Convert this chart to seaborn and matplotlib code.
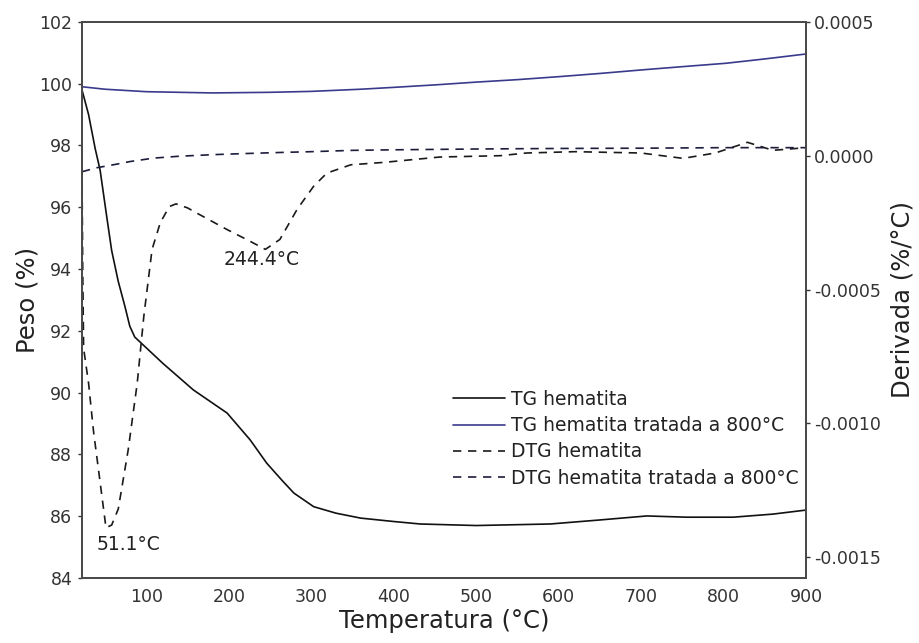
import matplotlib
matplotlib.use("Agg")
import matplotlib.pyplot as plt
import seaborn as sns

# --- TG curves (weight %, left axis) ---
tg_hem_temp = [22, 30, 38, 44, 52, 58, 66, 74, 80, 86, 92, 120, 157, 198, 226, 246,
               265, 279, 303, 330, 360, 400, 432, 500, 590, 650, 707, 755, 812, 860, 900]
tg_hem_peso = [99.8, 99.0, 97.9, 97.2, 95.7, 94.6, 93.6, 92.8, 92.15, 91.8, 91.65, 90.95,
               90.09, 89.34, 88.47, 87.72, 87.15, 86.75, 86.31, 86.1, 85.94, 85.83, 85.75,
               85.7, 85.75, 85.88, 86.01, 85.97, 85.97, 86.07, 86.2]

tg_trat_temp = [22, 50, 100, 180, 250, 300, 360, 400, 450, 500, 550, 602, 650, 703,
                750, 803, 850, 900]
tg_trat_peso = [99.9, 99.82, 99.74, 99.7, 99.72, 99.75, 99.82, 99.88, 99.96, 100.05,
                100.13, 100.23, 100.33, 100.45, 100.55, 100.66, 100.8, 100.96]

# --- DTG curves (derivative %/°C, right axis) ---
dtg_hem_temp = [22, 23, 24, 30, 36, 44, 51.1, 58, 66, 78, 89, 97, 107, 117, 128, 136,
                150, 161, 198, 226, 244.4, 262, 283, 303, 319, 348, 388, 456, 529, 561,
                620, 700, 751, 790, 829, 860, 900]
dtg_hem_der = [-0.00006, -0.00045, -0.00072, -0.00085, -0.00103, -0.00122, -0.00139,
               -0.00138, -0.00132, -0.00110, -0.00085, -0.00060, -0.00035, -0.00025,
               -0.00019, -0.00018, -0.000195, -0.000214, -0.000276, -0.00032, -0.00035,
               -0.000313, -0.00020, -0.000114, -0.000065, -0.000034, -0.000025,
               -0.000005, 0.0, 0.00001, 0.000015, 0.00001, -0.00001, 0.00001, 0.00005,
               0.00002, 0.00003]

dtg_trat_temp = [22, 40, 60, 80, 109, 140, 182, 220, 262, 300, 351, 400, 500, 600, 700,
                 800, 850, 900]
dtg_trat_der = [-0.00006, -0.000045, -0.000034, -0.000022, -0.000009, -0.000002,
                0.000004, 0.000008, 0.000012, 0.000015, 0.00002, 0.000022, 0.000025,
                0.000027, 0.000028, 0.00003, 0.00003, 0.00003]

# --- labels ---
legend_labels = ["TG hematita", "TG hematita tratada a 800°C",
                 "DTG hematita", "DTG hematita tratada a 800°C"]
peak_temps = [51.1, 244.4]
x_ticks = [100, 200, 300, 400, 500, 600, 700, 800, 900]
left_ticks = [84, 86, 88, 90, 92, 94, 96, 98, 100, 102]
right_ticks = [-0.0015, -0.0010, -0.0005, 0.0, 0.0005]

sns.set_theme(style="white")
plt.rcParams["font.family"] = ["DejaVu Sans"]
plt.rcParams["axes.unicode_minus"] = False

fig = plt.figure(figsize=(9.19, 6.43), dpi=100)
ax = fig.add_axes([0.0892, 0.101, 0.7878, 0.865])
ax2 = ax.twinx()

navy = "#3a3a8c"
dash = (0, (5, 4))

sns.lineplot(x=tg_hem_temp, y=tg_hem_peso, ax=ax, color="#111111", lw=1.2,
             estimator=None, sort=False, label=legend_labels[0])
sns.lineplot(x=tg_trat_temp, y=tg_trat_peso, ax=ax, color=navy, lw=1.2,
             estimator=None, sort=False, label=legend_labels[1])
sns.lineplot(x=dtg_hem_temp, y=dtg_hem_der, ax=ax2, color="#1a1a1a", lw=1.2,
             linestyle=dash, estimator=None, sort=False, label=legend_labels[2])
sns.lineplot(x=dtg_trat_temp, y=dtg_trat_der, ax=ax2, color="#1c1c3c", lw=1.2,
             linestyle=dash, estimator=None, sort=False, label=legend_labels[3])

ax.set_xlim(22, 900)
ax.set_ylim(84, 102)
ax2.set_ylim(-0.001578, 0.0005)

ax.set_xticks(x_ticks)
ax.set_yticks(left_ticks)
ax2.set_yticks(right_ticks)
ax2.set_yticklabels([f"{v:.4f}" for v in right_ticks])

tick_color = "#333333"
ax.tick_params(axis="both", labelsize=12.5, colors=tick_color, length=3, width=1,
               direction="out", pad=4)
ax.tick_params(axis="x", length=0, pad=7)
ax2.tick_params(axis="y", labelsize=12.5, colors=tick_color, length=3, width=1,
                direction="out", pad=3)

ax.set_xlabel("Temperatura (°C)", fontsize=17.5, color="#222222", labelpad=2)
ax.set_ylabel("Peso (%)", fontsize=17.5, color="#222222", labelpad=0)
ax2.set_ylabel("Derivada (%/°C)", fontsize=17.5, color="#222222", labelpad=7)

for a in (ax, ax2):
    for sp in a.spines.values():
        sp.set_color("#4a4a4a")
        sp.set_linewidth(1.3)

# peak temperature annotations
ax2.text(78, -0.001451, f"{peak_temps[0]}°C", fontsize=13.5, color="#222222",
         ha="center", va="center")
ax2.text(240, -0.000386, f"{peak_temps[1]}°C", fontsize=13.5, color="#222222",
         ha="center", va="center")

# combined legend from both axes
if ax.get_legend() is not None:
    ax.get_legend().remove()
if ax2.get_legend() is not None:
    ax2.get_legend().remove()
handles = ax.get_lines()[:2] + ax2.get_lines()[:2]
leg = ax.legend(handles, legend_labels, loc="upper left",
                bbox_to_anchor=(0.512, 0.3384), frameon=False, fontsize=13.5,
                handlelength=2.8, handletextpad=0.3, labelspacing=0.39,
                borderpad=0, borderaxespad=0)
for t in leg.get_texts():
    t.set_color("#222222")

fig.savefig("out.png", dpi=100)
